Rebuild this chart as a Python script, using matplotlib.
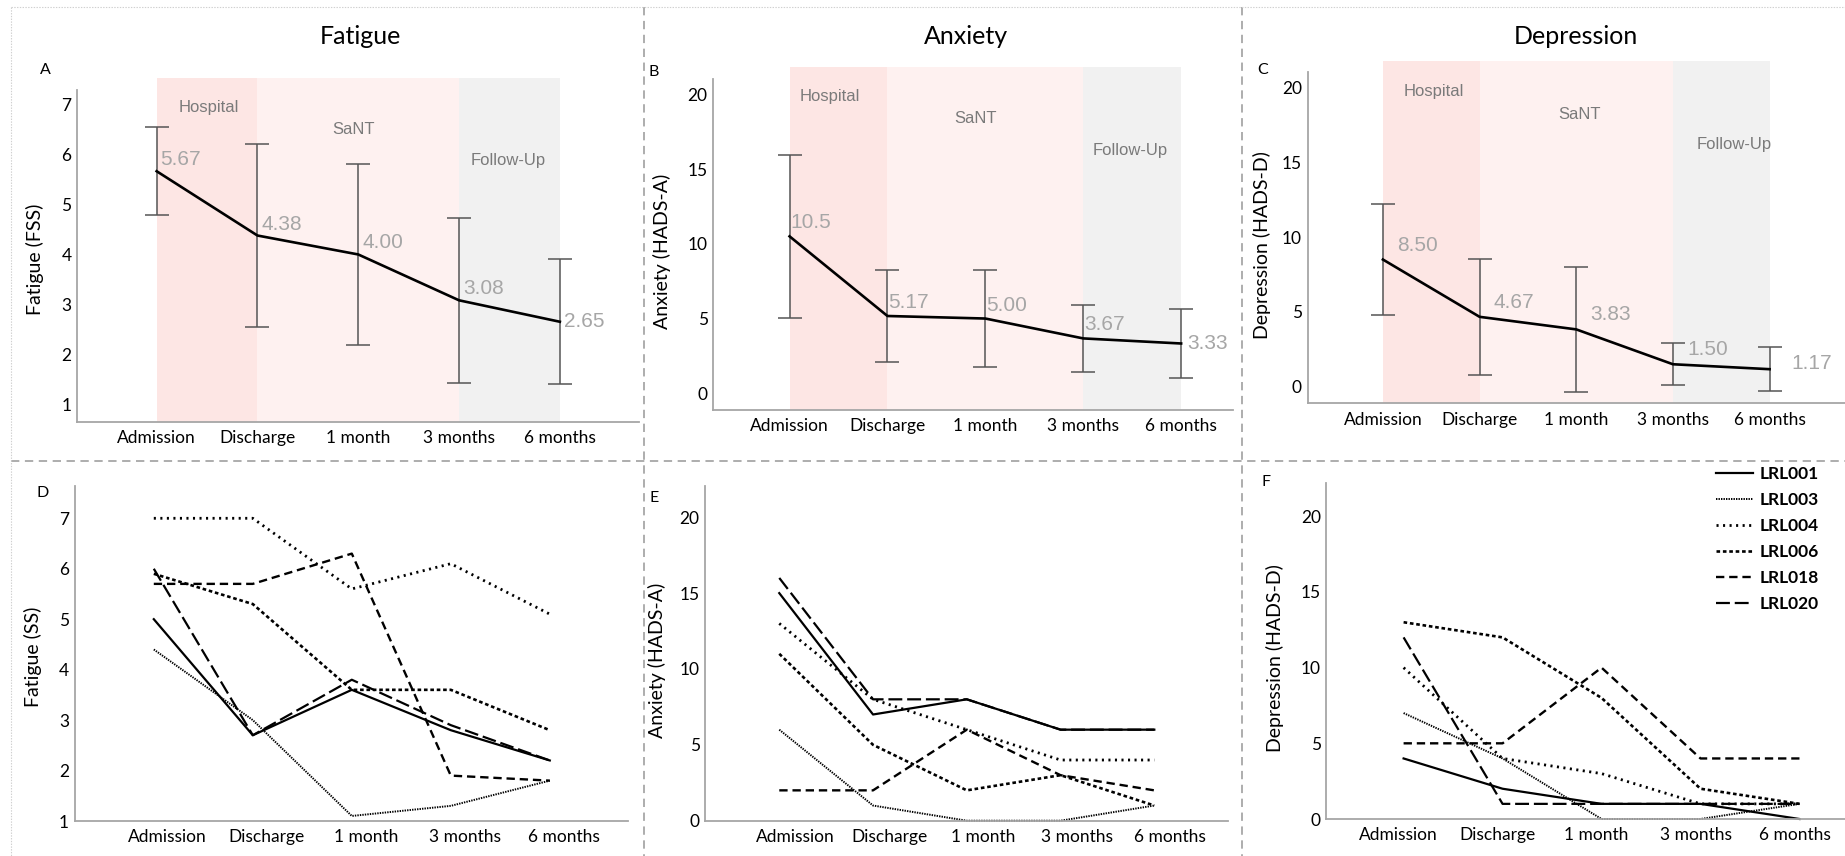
import matplotlib
matplotlib.use("Agg")
import matplotlib.pyplot as plt
import matplotlib.transforms as mtransforms
from matplotlib.lines import Line2D
import numpy as np

# ---- data ----
timepoints = ["Admission", "Discharge", "1 month", "3 months", "6 months"]

fss_mean = [5.67, 4.38, 4.00, 3.08, 2.65]
fss_sd = [0.88, 1.84, 1.81, 1.66, 1.25]
hadsa_mean = [10.5, 5.17, 5.00, 3.67, 3.33]
hadsa_sd = [5.45, 3.05, 3.25, 2.25, 2.30]
hadsd_mean = [8.50, 4.67, 3.83, 1.50, 1.17]
hadsd_sd = [3.70, 3.87, 4.17, 1.40, 1.45]

participants = ["LRL001", "LRL003", "LRL004", "LRL006", "LRL018", "LRL020"]
fatigue_ss = {
    "LRL001": [5.0, 2.7, 3.6, 2.8, 2.2],
    "LRL003": [4.4, 3.0, 1.1, 1.3, 1.8],
    "LRL004": [7.0, 7.0, 5.6, 6.1, 5.1],
    "LRL006": [5.9, 5.3, 3.6, 3.6, 2.8],
    "LRL018": [5.7, 5.7, 6.3, 1.9, 1.8],
    "LRL020": [6.0, 2.7, 3.8, 2.9, 2.2],
}
anxiety_ind = {
    "LRL001": [15, 7, 8, 6, 6],
    "LRL003": [6, 1, 0, 0, 1],
    "LRL004": [13, 8, 6, 4, 4],
    "LRL006": [11, 5, 2, 3, 1],
    "LRL018": [2, 2, 6, 3, 2],
    "LRL020": [16, 8, 8, 6, 6],
}
depression_ind = {
    "LRL001": [4, 2, 1, 1, 0],
    "LRL003": [7, 4, 0, 0, 1],
    "LRL004": [10, 4, 3, 1, 1],
    "LRL006": [13, 12, 8, 2, 1],
    "LRL018": [5, 5, 10, 4, 4],
    "LRL020": [12, 1, 1, 1, 1],
}

# ---- style ----
W, H = 1845, 856
plt.rcParams["lines.scale_dashes"] = False
TICK_FONT = "Lato"
ARIAL = "Liberation Sans"
SPINE = "#a6a6a6"
HOSP_C = "#fde6e4"
SANT_C = "#fef1f0"
FU_C = "#f1f1f1"

styles = {
    "LRL001": dict(ls="-", lw=1.6),
    "LRL003": dict(ls=(0, (1.0, 0.8)), lw=1.4),
    "LRL004": dict(ls=(0, (1.5, 3.2)), lw=2.0),
    "LRL006": dict(ls=(0, (2.6, 2.0)), lw=1.9),
    "LRL018": dict(ls=(0, (6.0, 3.5)), lw=1.7),
    "LRL020": dict(ls=(0, (10.0, 3.5)), lw=1.6),
}

fig = plt.figure(figsize=(W / 100, H / 100), dpi=100)


def px_axes(left, right, top, bottom):
    return fig.add_axes([left / W, 1 - bottom / H, (right - left) / W, (bottom - top) / H])


def base_style(ax, xlim, ylim, yticks, spine_top):
    ax.set_xlim(*xlim)
    ax.set_ylim(*ylim)
    ax.set_yticks(yticks)
    ax.set_xticks(range(len(timepoints)))
    ax.set_xticklabels(timepoints)
    for s in ["top", "right"]:
        ax.spines[s].set_visible(False)
    for s in ["left", "bottom"]:
        ax.spines[s].set_color(SPINE)
        ax.spines[s].set_linewidth(1.3)
    ax.spines["left"].set_bounds(ylim[0], spine_top)
    ax.tick_params(length=0, labelsize=12.5, pad=4)
    ax.tick_params(axis="x", pad=6)
    for lab in ax.get_xticklabels() + ax.get_yticklabels():
        lab.set_fontfamily(TICK_FONT)
    ax.patch.set_alpha(0)


x = np.arange(len(timepoints))

# ---- top row: group means ----
top_panels = [
    dict(mean=fss_mean, sd=fss_sd, box=(77, 638.5, 78, 421.7), xlim=(-0.79, 4.78),
         ylim=(0.645, 7.54), spine_top=7.30, yticks=range(1, 8),
         ylabel="Fatigue (FSS)", ylab_xy=(35, 259), letter="A", letter_xy=(45, 70),
         title="Fatigue", title_x=360, off=(4, 2), off_last=(4, 0),
         phase_xy=[(0.52, 6.95), (1.95, 6.5), (3.49, 5.88)]),
    dict(mean=hadsa_mean, sd=hadsa_sd, box=(713.2, 1233, 66.7, 410), xlim=(-0.78, 4.53),
         ylim=(-1.12, 21.85), spine_top=21.02, yticks=range(0, 21, 5),
         ylabel="Anxiety (HADS-A)", ylab_xy=(662, 251), letter="B", letter_xy=(654, 72),
         title="Anxiety", title_x=966, off=(1, 4), off_last=(6, 0),
         phase_xy=[(0.41, 19.84), (1.90, 18.39), (3.48, 16.27)]),
    dict(mean=hadsd_mean, sd=hadsd_sd, box=(1307.5, 1845, 61, 403.3), xlim=(-0.78, 4.78),
         ylim=(-1.11, 21.77), spine_top=21.06, yticks=range(0, 21, 5),
         ylabel="Depression (HADS-D)", ylab_xy=(1262, 245), letter="C", letter_xy=(1263, 70),
         title="Depression", title_x=1576, off=(14, 5), off_last=(22, 6),
         phase_xy=[(0.53, 19.72), (2.03, 18.2), (3.63, 16.16)]),
]

for p in top_panels:
    ax = px_axes(*p["box"])
    base_style(ax, p["xlim"], p["ylim"], p["yticks"], p["spine_top"])
    ax.axvspan(0, 1, color=HOSP_C, lw=0, zorder=0)
    ax.axvspan(1, 3, color=SANT_C, lw=0, zorder=0)
    ax.axvspan(3, 4, color=FU_C, lw=0, zorder=0)
    for name, (tx, ty) in zip(["Hospital", "SaNT", "Follow-Up"], p["phase_xy"]):
        ax.text(tx, ty, name, ha="center", va="center", fontsize=12,
                family=ARIAL, color="#7a7a7a")
    ax.errorbar(x, p["mean"], yerr=p["sd"], fmt="none", ecolor="#555555",
                elinewidth=1.1, capsize=8.5, capthick=1.1, zorder=2)
    ax.plot(x, p["mean"], color="black", lw=1.9, zorder=3)
    for i, v in enumerate(p["mean"]):
        txt = f"{v:.2f}" if v < 10 else f"{v:.1f}"
        last = i == len(p["mean"]) - 1
        dx, dy = p["off_last"] if last else p["off"]
        ax.annotate(txt, (x[i], v), xytext=(dx * 0.72, dy * 0.72), textcoords="offset points",
                    ha="left", va="center" if last else "bottom",
                    fontsize=15, family=ARIAL, color="#a6a6a6", zorder=4)
    fig.text(p["ylab_xy"][0] / W, 1 - p["ylab_xy"][1] / H, p["ylabel"], rotation=90,
             ha="center", va="center", fontsize=14, family=TICK_FONT)
    fig.text(p["letter_xy"][0] / W, 1 - p["letter_xy"][1] / H, p["letter"],
             ha="center", va="center", fontsize=11.5, family=TICK_FONT)
    fig.text(p["title_x"] / W, 1 - 37 / H, p["title"], ha="center", va="center",
             fontsize=18, family=TICK_FONT)

# ---- bottom row: individual participants ----
bottom_panels = [
    dict(data=fatigue_ss, box=(74.6, 628, 486, 821), xlim=(-0.80, 4.79), ylim=(1, 7.64),
         yticks=range(1, 8), ylabel="Fatigue (SS)", ylab_xy=(33, 657),
         letter="D", letter_xy=(43, 493), shift=14),
    dict(data=anxiety_ind, box=(705.2, 1228.4, 486, 820.7), xlim=(-0.79, 4.79), ylim=(0, 22.06),
         yticks=range(0, 21, 5), ylabel="Anxiety (HADS-A)", ylab_xy=(657, 660),
         letter="E", letter_xy=(654, 498), shift=16),
    dict(data=depression_ind, box=(1326.4, 1845, 483, 819), xlim=(-0.78, 4.46), ylim=(0, 22.2),
         yticks=range(0, 21, 5), ylabel="Depression (HADS-D)", ylab_xy=(1275, 658),
         letter="F", letter_xy=(1266, 482), shift=-5),
]

for p in bottom_panels:
    ax = px_axes(*p["box"])
    base_style(ax, p["xlim"], p["ylim"], p["yticks"], p["ylim"][1])
    for pid in participants:
        st = styles[pid]
        ax.plot(x, p["data"][pid], color="black", linestyle=st["ls"], lw=st["lw"],
                label=pid, clip_on=False)
    off = mtransforms.ScaledTranslation(p["shift"] / 100, 0, fig.dpi_scale_trans)
    for lab in ax.get_xticklabels():
        lab.set_transform(lab.get_transform() + off)
    fig.text(p["ylab_xy"][0] / W, 1 - p["ylab_xy"][1] / H, p["ylabel"], rotation=90,
             ha="center", va="center", fontsize=14, family=TICK_FONT)
    fig.text(p["letter_xy"][0] / W, 1 - p["letter_xy"][1] / H, p["letter"],
             ha="center", va="center", fontsize=11.5, family=TICK_FONT)
    last_ax = ax

handles, labels = last_ax.get_legend_handles_labels()
fig.legend(handles, labels, loc="upper left", bbox_to_anchor=(1716 / W, 1 - 466 / H),
           frameon=False, borderpad=0, borderaxespad=0, handlelength=2.15,
           handletextpad=0.35, labelspacing=0.58,
           prop=dict(family=TICK_FONT, weight="bold", size=12.5))

# ---- separators and border ----
sep = dict(color="#a0a0a0", lw=1.2, linestyle=(0, (6, 4)), transform=fig.transFigure)
for sx in [644.3, 1242.3]:
    fig.add_artist(Line2D([sx / W, sx / W], [1 - 7 / H, 0], **sep))
fig.add_artist(Line2D([11 / W, 1], [1 - 460.5 / H, 1 - 460.5 / H], **sep))
border = dict(color="#d0d0d0", lw=0.8, linestyle=(0, (1, 1)), transform=fig.transFigure)
fig.add_artist(Line2D([11 / W, 1], [1 - 7 / H, 1 - 7 / H], **border))
fig.add_artist(Line2D([11 / W, 11 / W], [1 - 7 / H, 0], **border))

fig.savefig("out.png", dpi=100)
